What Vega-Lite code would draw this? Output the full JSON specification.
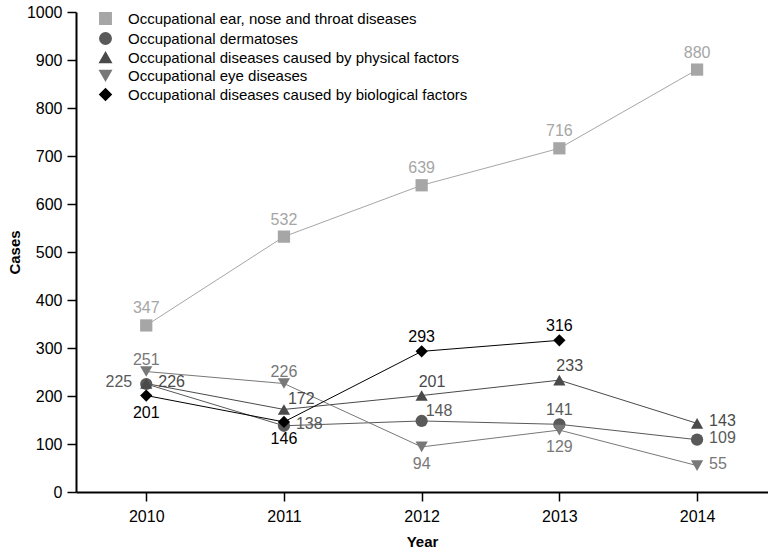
{
  "$schema": "https://vega.github.io/schema/vega-lite/v6.json",
  "width": 692,
  "height": 480,
  "autosize": "none",
  "padding": {"left": 76, "top": 12, "right": 0, "bottom": 62},
  "background": "white",
  "config": {
    "view": {"stroke": null},
    "font": "Liberation Sans",
    "axis": {
      "grid": false,
      "domainColor": "#000000",
      "domainWidth": 2,
      "tickColor": "#000000",
      "tickWidth": 1.5,
      "tickSize": 9,
      "labelColor": "#000000",
      "labelFontSize": 16,
      "labelFont": "Liberation Sans",
      "titleFont": "Liberation Sans",
      "titleFontSize": 15,
      "titleFontWeight": "bold",
      "titleColor": "#000000"
    },
    "legend": {
      "labelFont": "Liberation Sans",
      "labelFontSize": 15,
      "labelColor": "#000000",
      "labelLimit": 600
    }
  },
  "data": {
    "values": [
      {"series": "Occupational ear, nose and throat diseases", "year": 2010, "cases": 347},
      {"series": "Occupational ear, nose and throat diseases", "year": 2011, "cases": 532},
      {"series": "Occupational ear, nose and throat diseases", "year": 2012, "cases": 639},
      {"series": "Occupational ear, nose and throat diseases", "year": 2013, "cases": 716},
      {"series": "Occupational ear, nose and throat diseases", "year": 2014, "cases": 880},
      {"series": "Occupational dermatoses", "year": 2010, "cases": 225},
      {"series": "Occupational dermatoses", "year": 2011, "cases": 138},
      {"series": "Occupational dermatoses", "year": 2012, "cases": 148},
      {"series": "Occupational dermatoses", "year": 2013, "cases": 141},
      {"series": "Occupational dermatoses", "year": 2014, "cases": 109},
      {"series": "Occupational diseases caused by physical factors", "year": 2010, "cases": 226},
      {"series": "Occupational diseases caused by physical factors", "year": 2011, "cases": 172},
      {"series": "Occupational diseases caused by physical factors", "year": 2012, "cases": 201},
      {"series": "Occupational diseases caused by physical factors", "year": 2013, "cases": 233},
      {"series": "Occupational diseases caused by physical factors", "year": 2014, "cases": 143},
      {"series": "Occupational eye diseases", "year": 2010, "cases": 251},
      {"series": "Occupational eye diseases", "year": 2011, "cases": 226},
      {"series": "Occupational eye diseases", "year": 2012, "cases": 94},
      {"series": "Occupational eye diseases", "year": 2013, "cases": 129},
      {"series": "Occupational eye diseases", "year": 2014, "cases": 55},
      {"series": "Occupational diseases caused by biological factors", "year": 2010, "cases": 201},
      {"series": "Occupational diseases caused by biological factors", "year": 2011, "cases": 146},
      {"series": "Occupational diseases caused by biological factors", "year": 2012, "cases": 293},
      {"series": "Occupational diseases caused by biological factors", "year": 2013, "cases": 316}
    ]
  },
  "encoding": {
    "x": {
      "field": "year",
      "type": "quantitative",
      "scale": {"domain": [2009.49, 2014.515], "nice": false, "zero": false},
      "axis": {"values": [2010, 2011, 2012, 2013, 2014], "format": "d", "title": "Year", "labelPadding": 7, "titlePadding": 10}
    },
    "y": {
      "field": "cases",
      "type": "quantitative",
      "scale": {"domain": [0, 1000], "nice": false},
      "axis": {"values": [0, 100, 200, 300, 400, 500, 600, 700, 800, 900, 1000], "format": "d", "title": "Cases", "labelPadding": 5, "titlePadding": 4}
    },
    "color": {
      "field": "series",
      "type": "nominal",
      "scale": {
        "domain": ["Occupational ear, nose and throat diseases", "Occupational dermatoses", "Occupational diseases caused by physical factors", "Occupational eye diseases", "Occupational diseases caused by biological factors"],
        "range": ["#a6a6a6", "#595959", "#4a4a4a", "#787878", "#000000"]
      }
    }
  },
  "layer": [
    {
      "mark": {"type": "line", "strokeWidth": 1},
      "encoding": {"detail": {"field": "series"}}
    },
    {
      "mark": {"type": "point", "filled": true, "opacity": 1, "size": 150},
      "encoding": {
        "shape": {
          "field": "series",
          "type": "nominal",
          "scale": {
            "domain": ["Occupational ear, nose and throat diseases", "Occupational dermatoses", "Occupational diseases caused by physical factors", "Occupational eye diseases", "Occupational diseases caused by biological factors"],
            "range": ["square", "circle", "triangle-up", "triangle-down", "diamond"]
          },
          "legend": {"title": null, "orient": "none", "legendX": 22, "legendY": -1, "symbolSize": 130, "rowPadding": 1, "labelOffset": 15, "symbolOpacity": 1}
        },
        "color": {
          "field": "series",
          "type": "nominal",
          "legend": {"title": null, "orient": "none", "legendX": 22, "legendY": -1, "symbolSize": 130, "rowPadding": 1, "labelOffset": 15, "symbolOpacity": 1}
        }
      }
    },
    {
      "transform": [{"filter": "datum.series === 'Occupational ear, nose and throat diseases'"}],
      "mark": {"type": "text", "fontSize": 16, "dy": -17, "align": "center", "baseline": "middle"},
      "encoding": {"text": {"field": "cases"}}
    },
    {
      "transform": [{"filter": "datum.series === 'Occupational eye diseases' && datum.year <= 2011"}],
      "mark": {"type": "text", "fontSize": 16, "dy": -12, "align": "center", "baseline": "middle"},
      "encoding": {"text": {"field": "cases"}}
    },
    {
      "transform": [{"filter": "(datum.series === 'Occupational diseases caused by biological factors' && datum.year >= 2012) || (datum.series === 'Occupational dermatoses' && datum.year === 2013)"}],
      "mark": {"type": "text", "fontSize": 16, "dy": -14, "align": "center", "baseline": "middle"},
      "encoding": {"text": {"field": "cases"}}
    },
    {
      "transform": [{"filter": "datum.series === 'Occupational diseases caused by physical factors' && (datum.year === 2012 || datum.year === 2013)"}],
      "mark": {"type": "text", "fontSize": 16, "dx": -3, "dy": -14, "align": "left", "baseline": "middle"},
      "encoding": {"text": {"field": "cases"}}
    },
    {
      "transform": [{"filter": "(datum.series === 'Occupational diseases caused by biological factors' && datum.year <= 2011) || (datum.series === 'Occupational eye diseases' && (datum.year === 2012 || datum.year === 2013))"}],
      "mark": {"type": "text", "fontSize": 16, "dy": 17, "align": "center", "baseline": "middle"},
      "encoding": {"text": {"field": "cases"}}
    },
    {
      "transform": [{"filter": "datum.series === 'Occupational dermatoses' && datum.year === 2010"}],
      "mark": {"type": "text", "fontSize": 16, "dx": -14, "dy": -2, "align": "right", "baseline": "middle"},
      "encoding": {"text": {"field": "cases"}}
    },
    {
      "transform": [{"filter": "(datum.series === 'Occupational diseases caused by physical factors' && (datum.year === 2010 || datum.year === 2014)) || (datum.series === 'Occupational dermatoses' && (datum.year === 2011 || datum.year === 2014)) || (datum.series === 'Occupational eye diseases' && datum.year === 2014)"}],
      "mark": {"type": "text", "fontSize": 16, "dx": 12, "dy": -2, "align": "left", "baseline": "middle"},
      "encoding": {"text": {"field": "cases"}}
    },
    {
      "transform": [{"filter": "(datum.series === 'Occupational diseases caused by physical factors' && datum.year === 2011) || (datum.series === 'Occupational dermatoses' && datum.year === 2012)"}],
      "mark": {"type": "text", "fontSize": 16, "dx": 4, "dy": -10, "align": "left", "baseline": "middle"},
      "encoding": {"text": {"field": "cases"}}
    }
  ]
}
